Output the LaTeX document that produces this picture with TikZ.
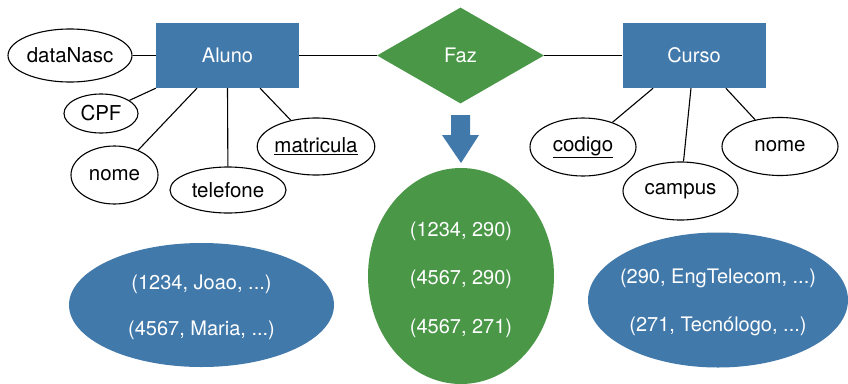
\documentclass[tikz,border=0pt]{standalone}
\usepackage{fontspec}
\setmainfont{TeX Gyre Heros}
\usetikzlibrary{shapes.geometric,calc}
\definecolor{entblue}{RGB}{66,121,171}
\definecolor{relgreen}{RGB}{74,151,71}
\tikzset{
  entity/.style={draw=none, fill=entblue, minimum width=143pt, minimum height=65pt,
    inner sep=0pt, text=white, font=\fontsize{20}{24}\selectfont},
  relation/.style={diamond, fill=relgreen, minimum width=167pt, minimum height=96pt,
    inner sep=0pt, text=white, font=\fontsize{20}{24}\selectfont},
  attr/.style={ellipse, draw=black, line width=1.1pt, fill=white, inner sep=0pt,
    font=\fontsize{20.5}{24}\selectfont},
  link/.style={draw=black, line width=1.1pt},
  tuples/.style={ellipse, inner sep=0pt, text=white, align=center,
    font=\fontsize{20}{24}\selectfont},
}
\begin{document}
\begin{tikzpicture}[x=1pt,y=-1pt]
\useasboundingbox (0,0) rectangle (848,383);

% entities and relationship
\node[entity] (aluno) at (227.5,55.5) {Aluno};
\node[entity] (curso) at (694,55.5) {Curso};
\node[relation] (faz) at (460.5,55.5) {Faz};

% attributes of Aluno
\node[attr, minimum width=124pt, minimum height=53pt] (datanasc) at (70,55.5) {dataNasc};
\node[attr, minimum width=74pt, minimum height=39pt] (cpf) at (101,113.5) {CPF};
\node[attr, minimum width=87pt, minimum height=58pt] (nomeA) at (114.5,175) {nome};
\node[attr, minimum width=116pt, minimum height=46pt] (telefone) at (228,190) {telefone};
\node[attr, minimum width=116pt, minimum height=57pt] (matricula) at (316,146.5) {\underline{matricula}};

% attributes of Curso
\node[attr, minimum width=106pt, minimum height=58pt] (codigo) at (583,147) {\underline{codigo}};
\node[attr, minimum width=115pt, minimum height=58pt] (campus) at (680.5,191) {campus};
\node[attr, minimum width=116pt, minimum height=58pt] (nomeC) at (780,146.5) {nome};

% connectors
\draw[link] (aluno) -- (faz);
\draw[link] (faz) -- (curso);
\draw[link] (datanasc) -- (aluno);
\draw[link] (aluno.south west) -- (cpf);
\draw[link] ($(aluno.south west)!0.287!(aluno.south east)$) -- (nomeA);
\draw[link] (aluno.south) -- (telefone);
\draw[link] ($(aluno.south west)!0.727!(aluno.south east)$) -- (matricula);
\draw[link] ($(curso.south west)!0.215!(curso.south east)$) -- (codigo);
\draw[link] ($(curso.south west)!0.479!(curso.south east)$) -- (campus);
\draw[link] ($(curso.south west)!0.722!(curso.south east)$) -- (nomeC);

% arrow pointing down to the relationship instances
\fill[entblue] (451,115) -- (470,115) -- (470,135) -- (479,135) -- (461,163)
  -- (442,135) -- (451,135) -- cycle;

% instance sets
\node[tuples, fill=entblue, minimum width=265pt, minimum height=124pt] (alunos) at (201.5,305) {};
\node[tuples] (al1) at (201.5,284) {(1234, Joao, ...)};
\node[tuples] (al2) at (201.5,330) {(4567, Maria, ...)};

\node[tuples, fill=relgreen, minimum width=186pt, minimum height=216pt] (fazset) at (461,276) {};
\node[tuples] (fz1) at (461,231) {(1234, 290)};
\node[tuples] (fz2) at (461,279) {(4567, 290)};
\node[tuples] (fz3) at (461,328) {(4567, 271)};

\node[tuples, fill=entblue, minimum width=260pt, minimum height=135pt] (cursos) at (718,300) {};
\node[tuples] (cs1) at (718,278) {(290, EngTelecom, ...)};
\node[tuples] (cs2) at (718,326) {(271, Tecnólogo, ...)};
\end{tikzpicture}
\end{document}
